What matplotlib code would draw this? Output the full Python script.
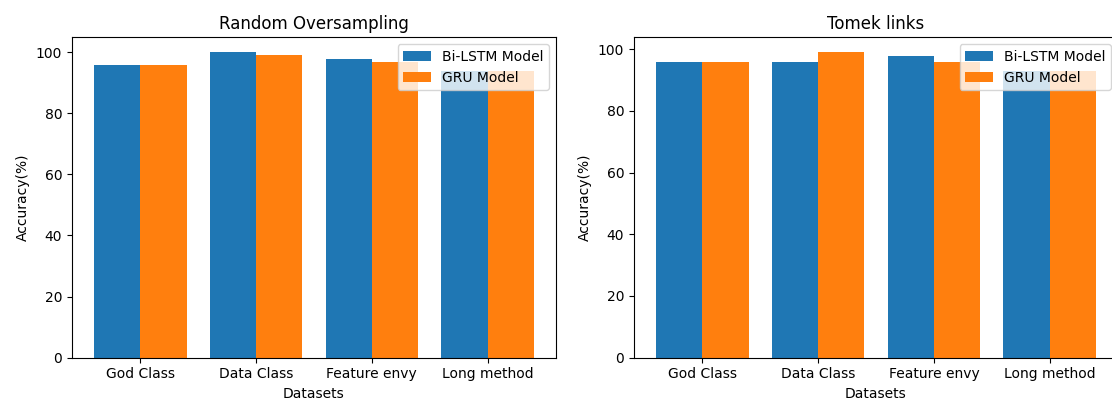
import matplotlib

matplotlib.use("Agg")
import matplotlib.pyplot as plt
import numpy as np

datasets = ["God Class", "Data Class", "Feature envy", "Long method"]
ros_bilstm = [96, 100, 98, 94]
ros_gru = [96, 99, 97, 94]
tomek_bilstm = [96, 96, 98, 93]
tomek_gru = [96, 99, 96, 93]

panels = [
    ("Random Oversampling", ros_bilstm, ros_gru),
    ("Tomek links", tomek_bilstm, tomek_gru),
]

fig = plt.figure(figsize=(11.12, 4.04), dpi=100)
# the source image is cropped on the right, so the second panel runs past the edge
ax_left = fig.add_axes([0.0647, 0.115, 0.4353, 0.793])
ax_right = fig.add_axes([0.5701, 0.115, 0.4353, 0.793])

x = np.arange(len(datasets))
width = 0.4
for ax, (title, bilstm, gru) in zip([ax_left, ax_right], panels):
    ax.bar(x - width / 2, bilstm, width, label="Bi-LSTM Model", color="#1f77b4")
    ax.bar(x + width / 2, gru, width, label="GRU Model", color="#ff7f0e")
    ax.set_xticks(x)
    ax.set_xticklabels(datasets)
    ax.set_xlabel("Datasets")
    ax.set_ylabel("Accuracy(%)")
    ax.set_title(title)
    ax.legend(loc="upper right")

fig.savefig("out.png", dpi=100)
